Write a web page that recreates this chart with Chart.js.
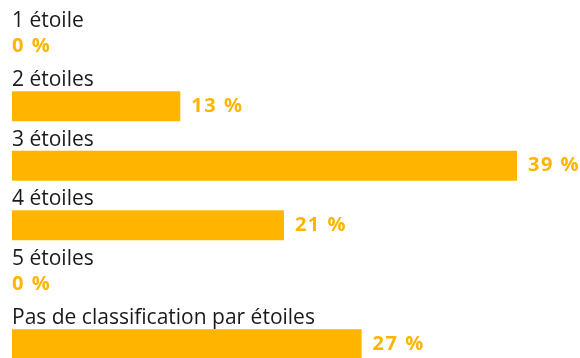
<!DOCTYPE html>
<html>
<head>
<meta charset="utf-8">
<script src="https://cdn.jsdelivr.net/npm/chart.js@4"></script>
<style>
html,body{margin:0;padding:0;background:#fff;overflow:hidden;}
#wrap{position:relative;width:580px;height:380px;}
</style>
</head>
<body>
<div id="wrap"><canvas id="c"></canvas></div>
<script>
const categories = ["1 étoile", "2 étoiles", "3 étoiles", "4 étoiles", "5 étoiles", "Pas de classification par étoiles"];
const values = [0, 13, 39, 21, 0, 27];
const valueLabels = ["0 %", "13 %", "39 %", "21 %", "0 %", "27 %"];

const barColor = "#FFB400";
const fontFamily = "'Open Sans', sans-serif";

const labelPlugin = {
  id: "rowLabels",
  afterDatasetsDraw(chart) {
    const ctx = chart.ctx;
    const meta = chart.getDatasetMeta(0);
    const left = chart.chartArea.left;
    ctx.save();
    meta.data.forEach((bar, i) => {
      const top = bar.y - bar.height / 2;
      ctx.font = "21px " + fontFamily;
      ctx.letterSpacing = "0px";
      ctx.fillStyle = "#1a1a1a";
      ctx.textAlign = "left";
      ctx.textBaseline = "alphabetic";
      ctx.fillText(categories[i], left, top - 5);
      ctx.font = "bold 20px " + fontFamily;
      ctx.letterSpacing = "1.5px";
      ctx.fillStyle = barColor;
      ctx.textBaseline = "middle";
      const x = values[i] > 0 ? bar.x + 11 : left;
      ctx.fillText(valueLabels[i], x, bar.y);
    });
    ctx.restore();
  }
};

new Chart(document.getElementById("c"), {
  type: "bar",
  data: {
    labels: categories,
    datasets: [{
      data: values,
      backgroundColor: barColor,
      borderWidth: 0,
      categoryPercentage: 1,
      barPercentage: 0.504
    }]
  },
  options: {
    indexAxis: "y",
    responsive: true,
    maintainAspectRatio: false,
    animation: false,
    layout: { padding: { left: 12, right: 63, top: 17, bottom: 6 } },
    plugins: { legend: { display: false }, tooltip: { enabled: false } },
    scales: {
      x: { display: false, min: 0, max: Math.max(...values) },
      y: { display: false }
    }
  },
  plugins: [labelPlugin]
});
</script>
</body>
</html>
